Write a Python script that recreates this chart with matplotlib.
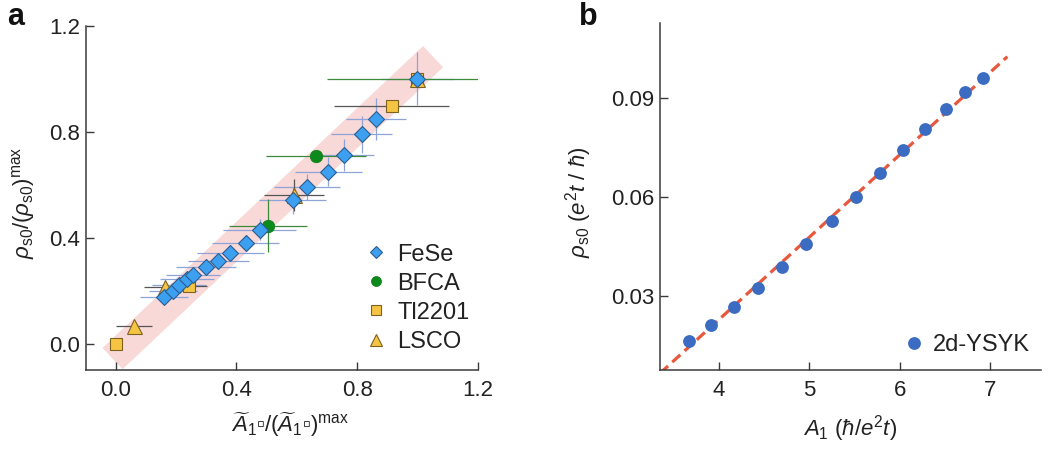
import numpy as np
import matplotlib
matplotlib.use("Agg")
import matplotlib.pyplot as plt
from matplotlib.lines import Line2D

plt.rcParams['font.family'] = ['Liberation Sans', 'DejaVu Sans']
plt.rcParams['mathtext.fontset'] = 'custom'
plt.rcParams['mathtext.rm'] = 'Liberation Sans'
plt.rcParams['mathtext.it'] = 'Liberation Sans:italic'
plt.rcParams['mathtext.bf'] = 'Liberation Sans:bold'

#===============================================================================
# DATA
#===============================================================================

# panel a
fese_x = [0.16, 0.19, 0.21, 0.235, 0.257, 0.30, 0.34, 0.38, 0.43, 0.477,
          0.586, 0.634, 0.705, 0.755, 0.815, 0.862, 1.0]
fese_y = [0.175, 0.20, 0.22, 0.243, 0.26, 0.288, 0.313, 0.342, 0.38, 0.43,
          0.541, 0.591, 0.65, 0.713, 0.791, 0.848, 1.0]
fese_xerr = [0.08, 0.08, 0.09, 0.09, 0.09, 0.10, 0.10, 0.11, 0.11, 0.12,
             0.11, 0.11, 0.11, 0.10, 0.10, 0.10, 0.12]
fese_yerr = [0.02, 0.02, 0.02, 0.02, 0.02, 0.02, 0.025, 0.03, 0.03, 0.04,
             0.05, 0.05, 0.055, 0.06, 0.07, 0.08, 0.10]

bfca_x = [0.505, 0.663, 1.0]
bfca_y = [0.446, 0.709, 1.0]
bfca_xerr = [0.13, 0.165, 0.30]
bfca_yerr = [0.10, 0.02, 0.02]

tl_x = [0.0, 0.243, 0.915, 1.0]
tl_y = [0.0, 0.216, 0.898, 1.0]
tl_xerr = [0.0, 0.06, 0.19, 0.0]
tl_yerr = [0.0, 0.0, 0.0, 0.0]

lsco_x = [0.061, 0.162, 0.59, 1.0]
lsco_y = [0.065, 0.214, 0.562, 1.0]
lsco_xerr = [0.06, 0.07, 0.10, 0.0]
lsco_yerr = [0.0, 0.0, 0.06, 0.0]

band_x = [-0.011, 1.052]
band_y = [-0.057, 1.084]

# panel b
ysyk_x = [3.668, 3.908, 4.170, 4.428, 4.701, 4.963, 5.248, 5.517, 5.783,
          6.041, 6.285, 6.514, 6.728, 6.927]
ysyk_y = [0.0166, 0.0213, 0.0267, 0.0326, 0.0390, 0.0458, 0.0529, 0.0601,
          0.0674, 0.0742, 0.0808, 0.0868, 0.0919, 0.0962]
fit_x = [3.347, 7.193]
fit_y = [0.0067, 0.1026]

#===============================================================================
# FIGURE
#===============================================================================

TXT = '#222222'
SPINE = '#3a3a3a'
FS = 16

fig = plt.figure(figsize=(10.63, 4.5), dpi=100)
ax_a = fig.add_axes([0.0806, 0.1778, 0.3688, 0.7644])
ax_b = fig.add_axes([0.6209, 0.1778, 0.3584, 0.7718])

for ax in (ax_a, ax_b):
    for side in ('top', 'right'):
        ax.spines[side].set_visible(False)
    for side in ('left', 'bottom'):
        ax.spines[side].set_color(SPINE)
        ax.spines[side].set_linewidth(1.1)
    ax.tick_params(direction='in', length=5.5, width=1.0, color=SPINE,
                   labelsize=FS, labelcolor=TXT)
    ax.tick_params(axis='x', pad=7)
    ax.tick_params(axis='y', pad=4)

# ---- panel a
ax_a.plot(band_x, band_y, color='#f9d8d8', lw=21, solid_capstyle='butt',
          zorder=0)

ax_a.errorbar(fese_x, fese_y, xerr=fese_xerr, yerr=fese_yerr, fmt='none',
              ecolor='#8ea3d6', elinewidth=0.9, capsize=0, zorder=2)
ax_a.errorbar(bfca_x, bfca_y, xerr=bfca_xerr, yerr=bfca_yerr, fmt='none',
              ecolor='#3c8a3c', elinewidth=0.9, capsize=0, zorder=2)
ax_a.errorbar(tl_x, tl_y, xerr=tl_xerr, yerr=tl_yerr, fmt='none',
              ecolor='#555555', elinewidth=0.9, capsize=0, zorder=2)
ax_a.errorbar(lsco_x, lsco_y, xerr=lsco_xerr, yerr=lsco_yerr, fmt='none',
              ecolor='#555555', elinewidth=0.9, capsize=0, zorder=2)

st_fese = dict(marker='D', ms=8.2, mfc='#3d9ff0', mec='#2b5d8f', mew=0.8, ls='none')
st_bfca = dict(marker='o', ms=9.0, mfc='#0c8a1c', mec='#0c7a18', mew=0.5, ls='none')
st_tl = dict(marker='s', ms=8.3, mfc='#f6c443', mec='#7d6320', mew=0.8, ls='none')
st_lsco = dict(marker='^', ms=10.8, mfc='#f6c443', mec='#7d6320', mew=0.8, ls='none')

ax_a.plot(bfca_x, bfca_y, zorder=3, **st_bfca)
ax_a.plot(tl_x, tl_y, zorder=3, **st_tl)
ax_a.plot(lsco_x, lsco_y, zorder=3, **st_lsco)
ax_a.plot(fese_x, fese_y, zorder=4, **st_fese)

ax_a.set_xlim(-0.1, 1.2)
ax_a.set_ylim(-0.1, 1.2)
ax_a.set_xticks([0.0, 0.4, 0.8, 1.2])
ax_a.set_yticks([0.0, 0.4, 0.8, 1.2])
ax_a.set_xticklabels(['0.0', '0.4', '0.8', '1.2'])
ax_a.set_yticklabels(['0.0', '0.4', '0.8', '1.2'])

ax_a.set_xlabel(r'$\widetilde{A}_\mathregular{1}$▫/($\widetilde{A}_\mathregular{1}$▫)$^\mathregular{max}$',
                fontsize=FS, color=TXT)
ax_a.set_ylabel(r'$\rho_\mathregular{s0}$/($\rho_\mathregular{s0}$)$^\mathregular{max}$',
                fontsize=FS, color=TXT)
ax_a.xaxis.set_label_coords(0.521, -0.118)
ax_a.yaxis.set_label_coords(-0.125, 0.485)

handles = [Line2D([], [], **st_fese), Line2D([], [], **st_bfca),
           Line2D([], [], **st_tl), Line2D([], [], **st_lsco)]
leg = ax_a.legend(handles, ['FeSe', 'BFCA', 'Tl2201', 'LSCO'], loc='lower left',
                  bbox_to_anchor=(0.713, 0.05), frameon=False, fontsize=17,
                  borderpad=0, borderaxespad=0, handlelength=0.9,
                  handletextpad=0.45, labelspacing=0.3, markerscale=0.8)
for t in leg.get_texts():
    t.set_color(TXT)

# ---- panel b
ax_b.plot(fit_x, fit_y, color='#e8583c', lw=2.3, dashes=(3.4, 1.8), zorder=2)
ax_b.plot(ysyk_x, ysyk_y, marker='o', ms=8.2, mfc='#3b6cc2', mec='#3b6cc2',
          ls='none', zorder=3, label='2d-YSYK')

ax_b.set_xlim(3.347, 7.566)
ax_b.set_ylim(0.0077, 0.1129)
ax_b.set_xticks([4, 5, 6, 7])
ax_b.set_yticks([0.03, 0.06, 0.09])
ax_b.set_yticklabels(['0.03', '0.06', '0.09'])

ax_b.set_xlabel(r'$A_\mathregular{1}$ ($\hbar/e^\mathregular{2}t$)', fontsize=FS, color=TXT)
ax_b.set_ylabel(r'$\rho_\mathregular{s0}$ ($e^\mathregular{2}t$ / $\hbar$)', fontsize=FS, color=TXT)
ax_b.xaxis.set_label_coords(0.499, -0.125)
ax_b.yaxis.set_label_coords(-0.173, 0.482)

leg_b = ax_b.legend(loc='lower left', bbox_to_anchor=(0.64, 0.04), frameon=False,
                    fontsize=17, borderpad=0, borderaxespad=0, handlelength=0.9,
                    handletextpad=0.35)
for t in leg_b.get_texts():
    t.set_color(TXT)

fig.text(0.007, 0.995, 'a', fontsize=22, fontweight='bold', va='top', ha='left', color='#111111')
fig.text(0.545, 0.995, 'b', fontsize=22, fontweight='bold', va='top', ha='left', color='#111111')

plt.savefig("out.png", dpi=100)
plt.close()
